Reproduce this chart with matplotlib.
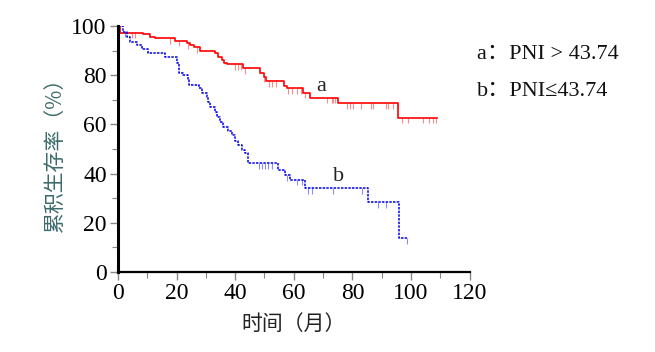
import numpy as np
import matplotlib
matplotlib.use("Agg")
import matplotlib.pyplot as plt
from matplotlib.ticker import MultipleLocator

# --- data (months, survival %) ---
a_time = [0, 0.7, 8.7, 10.9, 12.6, 19.5, 23.7, 24.6, 25.8, 28.0, 33.2, 34.3, 35.4,
          36.2, 37.2, 42.8, 48.5, 49.7, 50.6, 56.5, 57.7, 63.3, 65.6, 75.1, 95.6]
a_surv = [100, 97.3, 96.6, 95.7, 95.0, 94.0, 93.0, 92.3, 91.3, 89.8, 88.9, 87.5, 86.2,
          85.0, 84.4, 82.8, 80.8, 79.4, 77.6, 75.6, 74.7, 72.9, 70.9, 68.6, 62.7]
a_end = 108.7
a_cens = [4.8, 5.8, 17.8, 21, 24, 27, 40, 41, 42, 43.5, 50, 51.5, 52.5, 54, 58, 59.5,
          61, 62.5, 64, 71.4, 73, 73.5, 74.2, 78.3, 79.3, 80.3, 83, 86.2, 87.2, 91.3,
          92.3, 93.7, 95.4, 97, 99, 104, 106, 107.4, 108.4]

b_time = [0, 1.8, 3.0, 4.1, 6.4, 8.1, 10.4, 16.1, 20.3, 21.0, 22.3, 24.0, 24.4, 27.5,
          28.6, 30.3, 30.9, 31.5, 33.2, 33.7, 34.9, 36.0, 37.7, 38.9, 40.0, 41.1, 42.3,
          43.5, 44.5, 54.5, 57.1, 58.8, 63.9, 85.2, 96.0]
b_surv = [100, 97.7, 95.7, 93.6, 92.3, 90.5, 89.0, 87.3, 84.8, 81.0, 80.0, 78.0, 76.0,
          74.7, 72.9, 71.3, 69.2, 67.2, 65.2, 63.1, 61.1, 58.8, 57.4, 55.7, 53.4, 51.6,
          49.6, 48.3, 44.2, 41.5, 39.4, 37.4, 34.0, 28.3, 13.8]
b_end = 98.7
b_cens = [2.5, 48, 49.2, 50.3, 51.3, 52.6, 57.7, 61, 62.8, 65, 66.2, 73.5, 83.3,
          88.6, 91.3, 98.7]

legend_lines = ["a：PNI > 43.74", "b：PNI≤43.74"]

SERIF = ["Liberation Serif", "Noto Sans CJK SC"]
CJK = ["Noto Sans CJK SC", "DejaVu Sans"]

fig = plt.figure(figsize=(6.55, 3.52), dpi=100)
ax = fig.add_axes([0.180, 0.227, 0.537, 0.699])


def km(ax, t, s, end, cens, color, ls, lw):
    tt = list(t) + [end]
    ss = list(s) + [s[-1]]
    ax.step(tt, ss, where="post", color=color, linestyle=ls, linewidth=lw)
    idx = np.searchsorted(t, cens, side="right") - 1
    y = np.array(s)[idx]
    ax.vlines(cens, y - 2.2, y, color=color, linewidth=0.8, alpha=0.45)


km(ax, a_time, a_surv, a_end, a_cens, "#ff0000", "-", 1.2)
km(ax, b_time, b_surv, b_end, b_cens, "#0000ee", (0, (1.6, 0.8)), 1.1)

ax.text(69.4, 75.5, "a", family=SERIF, fontsize=16, color="#222222", ha="center", va="center")
ax.text(75.2, 39.0, "b", family=SERIF, fontsize=16, color="#222222", ha="center", va="center")

ax.set_xlim(0, 120)
ax.set_ylim(0, 100)
ax.xaxis.set_major_locator(MultipleLocator(20))
ax.xaxis.set_minor_locator(MultipleLocator(10))
ax.yaxis.set_major_locator(MultipleLocator(20))
ax.yaxis.set_minor_locator(MultipleLocator(10))
ax.tick_params(which="major", direction="out", length=6, width=1.0, color="#888888",
               labelsize=17, pad=2)
ax.tick_params(which="minor", direction="out", length=4, width=0.8, color="#888888")
for lab in ax.get_xticklabels() + ax.get_yticklabels():
    lab.set_family(SERIF)

for side in ("top", "right"):
    ax.spines[side].set_visible(False)
ax.spines["left"].set_linewidth(2.2)
ax.spines["bottom"].set_linewidth(1.6)

ax.set_ylabel("累积生存率（%）", family=CJK, fontsize=15, color="#3d6b6b", labelpad=4)
ax.set_xlabel("时间（月）", family=CJK, fontsize=15, color="#222222", labelpad=6)

fig.text(0.728, 0.845, legend_lines[0], family=SERIF, fontsize=16, color="#111111",
         ha="left", va="center")
fig.text(0.728, 0.740, legend_lines[1], family=SERIF, fontsize=16, color="#111111",
         ha="left", va="center")

fig.savefig("out.png", dpi=100)
